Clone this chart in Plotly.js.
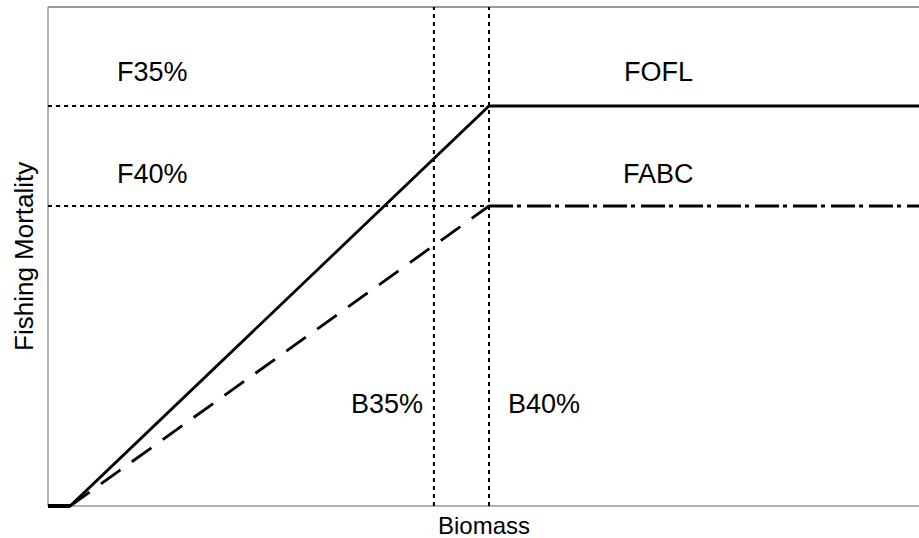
<!DOCTYPE html>
<html>
<head>
<meta charset="utf-8">
<script src="https://cdn.plot.ly/plotly-3.0.1.min.js"></script>
<style>html,body{margin:0;padding:0;background:#fff;}#chart{width:919px;height:538px;}</style>
</head>
<body>
<div id="chart"></div>
<script>
// Harvest control rule (biomass relative to B40%, F relative to F35%)
const alpha = 0.05;          // biomass at which F reaches zero
const b35 = 0.875;           // B35% / B40%
const b40 = 1.0;             // B40%
const f35 = 1.0;             // FOFL level (F35%)
const f40 = 0.75;            // FABC level (F40%)
const xMax = 2.0;

const oflX = [0, alpha, b40, xMax];
const oflY = [0, 0, f35, f35];
const abcRampX = [alpha, b40];
const abcRampY = [0, f40];
const abcFlatX = [b40, xMax];
const abcFlatY = [f40, f40];

const refLabels = [
  {text: 'F35%', x: 0.237, y: 1.084},
  {text: 'F40%', x: 0.237, y: 0.831},
  {text: 'FOFL', x: 1.384, y: 1.084},
  {text: 'FABC', x: 1.384, y: 0.831},
  {text: 'B35%', x: 0.769, y: 0.256},
  {text: 'B40%', x: 1.124, y: 0.256}
];

const xTitle = 'Biomass';
const yTitle = 'Fishing Mortality';

const yTop = 1.2475;
const yBot = -0.0075;
const xRight = 1.975;

const dotted = {color: '#000', width: 2, dash: '4px,4px'};
const traces = [
  {x: [0, b40], y: [f35, f35], mode: 'lines', line: dotted, hoverinfo: 'skip'},
  {x: [0, b40], y: [f40, f40], mode: 'lines', line: dotted, hoverinfo: 'skip'},
  {x: [b35, b35], y: [0, yTop], mode: 'lines', line: dotted, hoverinfo: 'skip'},
  {x: [b40, b40], y: [0, yTop], mode: 'lines', line: dotted, hoverinfo: 'skip'},
  {x: [0, alpha], y: [0, 0], mode: 'lines', line: {color: '#000', width: 4}},
  {x: oflX, y: oflY, mode: 'lines', line: {color: '#000', width: 2.8}},
  {x: abcRampX, y: abcRampY, mode: 'lines', line: {color: '#000', width: 2.8, dash: '24px,14px'}},
  {x: abcFlatX, y: abcFlatY, mode: 'lines', line: {color: '#000', width: 2.8, dash: '24px,4px,4px,6px'}}
];

const fontFam = 'Liberation Sans, Arial, Helvetica, sans-serif';
const yZeroPaper = (0 - yBot) / (yTop - yBot);

const annots = refLabels.map(l => ({
  text: l.text, x: l.x, y: l.y, xref: 'x', yref: 'y', showarrow: false,
  xanchor: 'center', yanchor: 'middle', font: {size: 27, family: fontFam, color: '#000'}
}));
annots.push({text: xTitle, xref: 'paper', yref: 'paper', x: 0.5, y: -0.032, showarrow: false,
  xanchor: 'center', yanchor: 'middle', font: {size: 24, family: fontFam, color: '#000'}});
annots.push({text: yTitle, xref: 'paper', yref: 'paper', x: -0.0276, y: 0.504, showarrow: false,
  textangle: -90, xanchor: 'center', yanchor: 'middle', font: {size: 26, family: fontFam, color: '#000'}});

const layout = {
  width: 919, height: 538,
  margin: {l: 48, r: 0, t: 7, b: 29},
  paper_bgcolor: '#fff', plot_bgcolor: '#fff',
  showlegend: false,
  font: {family: fontFam, color: '#000'},
  xaxis: {range: [0, xRight], showgrid: false, zeroline: false, showticklabels: false,
          ticks: '', showline: false},
  yaxis: {range: [yBot, yTop], showgrid: false, zeroline: false, showticklabels: false,
          ticks: '', showline: false},
  shapes: [
    {type: 'line', xref: 'paper', yref: 'paper', x0: 0, x1: 0, y0: yZeroPaper, y1: 1, layer: 'below', line: {color: '#999', width: 1.5}},
    {type: 'line', xref: 'paper', yref: 'paper', x0: 0, x1: 1, y0: yZeroPaper, y1: yZeroPaper, layer: 'below', line: {color: '#999', width: 1.5}},
    {type: 'line', xref: 'paper', yref: 'paper', x0: 0, x1: 1, y0: 1, y1: 1, layer: 'below', line: {color: '#999', width: 2}}
  ],
  annotations: annots
};

Plotly.newPlot('chart', traces, layout, {displayModeBar: false, staticPlot: true});
</script>
</body>
</html>
